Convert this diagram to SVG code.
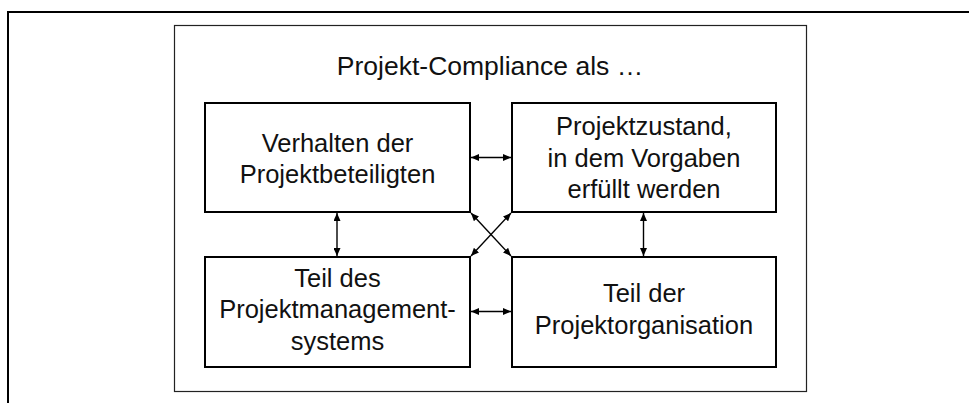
<svg xmlns="http://www.w3.org/2000/svg" width="969" height="403" viewBox="0 0 969 403">
<style>
.frame{fill:none;stroke:#000;stroke-width:2}
.outer{fill:#fff;stroke:#222;stroke-width:1.2}
.box{fill:#fff;stroke:#000;stroke-width:2}
.t{font-family:"Liberation Sans",Arial,Helvetica,sans-serif;font-size:25.5px;fill:#111;text-anchor:middle}
.c{stroke:#000;stroke-width:1.4;fill:none;marker-start:url(#ah);marker-end:url(#ah)}
</style>
<defs>
<marker id="ah" markerUnits="userSpaceOnUse" viewBox="0 0 8 7" refX="8" refY="3.5" markerWidth="8" markerHeight="7" orient="auto-start-reverse">
<path d="M0,0 L8,3.5 L0,7 Z" fill="#000"/>
</marker>
</defs>
<rect width="969" height="403" fill="#fff"/>
<path class="frame" d="M8,403 V12 H969"/>
<rect class="outer" x="174.5" y="25.5" width="632" height="366"/>
<text class="t" x="490" y="75" style="font-size:26.5px">Projekt-Compliance als …</text>
<g id="node-verhalten">
<rect class="box" x="205" y="103" width="265" height="109"/>
<text class="t" x="337.5" y="151.5">Verhalten der</text>
<text class="t" x="337.5" y="182.5">Projektbeteiligten</text>
</g>
<g id="node-projektzustand">
<rect class="box" x="512" y="103" width="264" height="109"/>
<text class="t" x="644" y="135">Projektzustand,</text>
<text class="t" x="644" y="166.5">in dem Vorgaben</text>
<text class="t" x="644" y="198">erfüllt werden</text>
</g>
<g id="node-pm-system">
<rect class="box" x="205" y="257" width="265" height="110"/>
<text class="t" x="337.5" y="286.5">Teil des</text>
<text class="t" x="337.5" y="318">Projektmanagement-</text>
<text class="t" x="337.5" y="349.5">systems</text>
</g>
<g id="node-projektorganisation">
<rect class="box" x="512" y="257" width="264" height="110"/>
<text class="t" x="644" y="302">Teil der</text>
<text class="t" x="644" y="333.5">Projektorganisation</text>
</g>
<g id="connectors">
<line class="c" x1="471" y1="157.5" x2="511" y2="157.5"/>
<line class="c" x1="471" y1="311.5" x2="511" y2="311.5"/>
<line class="c" x1="337" y1="213" x2="337" y2="256"/>
<line class="c" x1="643.5" y1="213" x2="643.5" y2="256"/>
<line class="c" x1="471" y1="213" x2="511" y2="256"/>
<line class="c" x1="511" y1="213" x2="471" y2="256"/>
</g>
</svg>
